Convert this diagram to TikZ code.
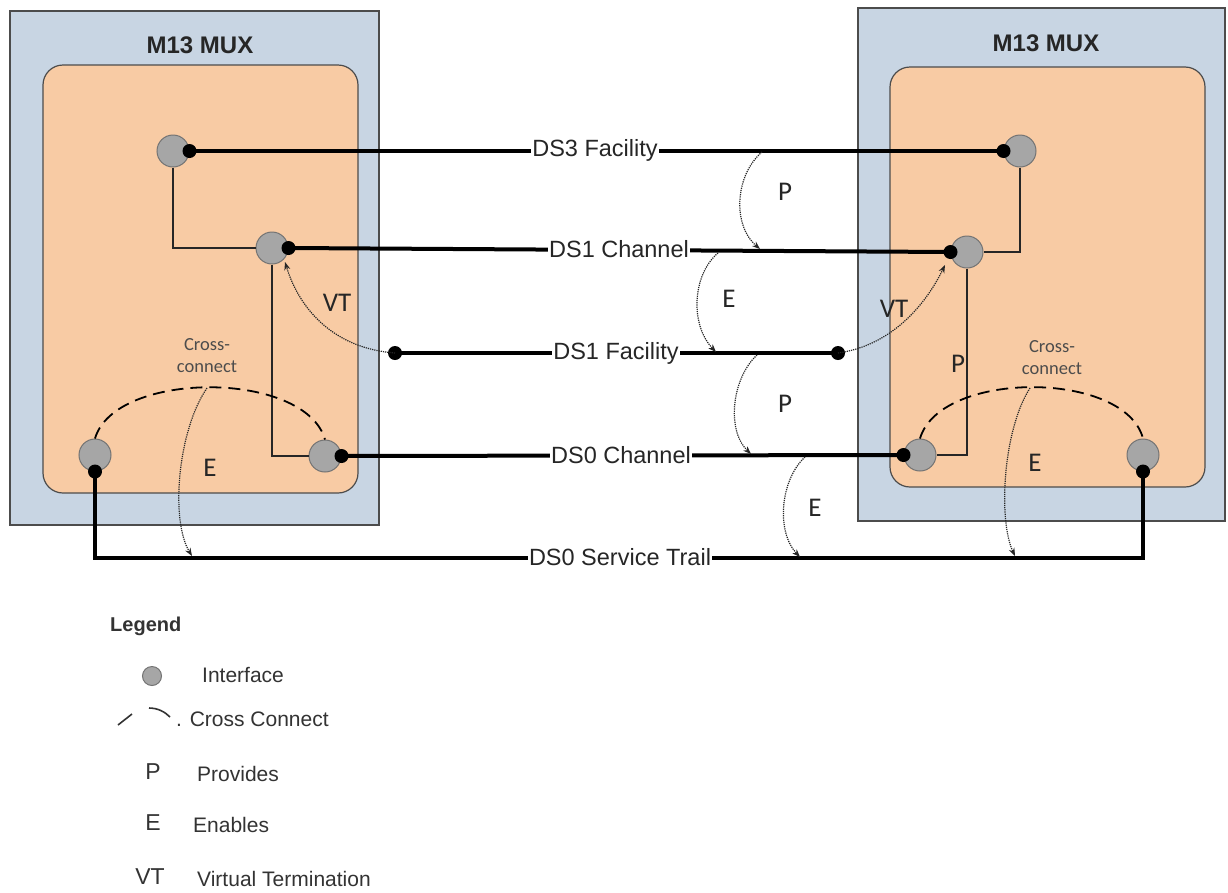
\documentclass[tikz,border=0pt]{standalone}
\usepackage{fontspec}
\setmainfont{Liberation Sans}
\newfontfamily\calfont{Carlito}
\usetikzlibrary{arrows.meta}
\definecolor{outerblue}{HTML}{C8D5E3}
\definecolor{peach}{HTML}{F8CBA4}
\definecolor{ifgray}{HTML}{A6A6A6}
\definecolor{txtgray}{HTML}{333333}
\begin{document}
\begin{tikzpicture}[x=1pt,y=-1pt,
  outerbox/.style={draw=black!70, fill=outerblue, line width=1.2pt},
  innerbox/.style={draw=black!70, fill=peach, rounded corners=20pt, line width=1.2pt},
  iface/.style={circle, draw=black!55, fill=ifgray, minimum size=32pt, inner sep=0pt, line width=1pt},
  tdot/.style={circle, fill=black, minimum size=14pt, inner sep=0pt},
  trail/.style={line width=4pt},
  thinline/.style={line width=1.3pt, draw=black!85},
  rel/.style={densely dotted, line width=1.2pt, draw=black!85, -{Stealth[length=8pt,width=6pt]}},
  xc/.style={dash pattern=on 12pt off 7pt, line width=1.8pt},
  lbl/.style={fill=white, inner sep=1pt, text=black!85, font=\fontsize{23.5}{26}\selectfont},
  rlbl/.style={font=\calfont\fontsize{27}{28}\selectfont, text=black!85},
  title/.style={font=\bfseries\fontsize{24}{26}\selectfont, text=black!85},
  xclbl/.style={font=\calfont\fontsize{18.5}{22}\selectfont, text=black!70, align=center},
  legtxt/.style={font=\fontsize{21}{24}\selectfont, text=txtgray, anchor=west, inner sep=0pt},
  legsym/.style={font=\fontsize{23}{24}\selectfont, text=txtgray}]
\useasboundingbox[fill=white] (0,0) rectangle (1228,892);

% boxes
\draw[outerbox] (10,11) rectangle (379,525);
\draw[innerbox] (43,65) rectangle (358,493);
\node[title] (tl) at (200,45) {M13 MUX};
\draw[outerbox] (858,8) rectangle (1225,521);
\draw[innerbox] (890,67) rectangle (1205,487);
\node[title] (tr) at (1046,43) {M13 MUX};

% interfaces
\node[iface] (l3) at (173,151) {};
\node[iface] (l1) at (272,248) {};
\node[iface] (l0a) at (95,455) {};
\node[iface] (l0b) at (325,456) {};
\node[iface] (r3) at (1020,151) {};
\node[iface] (r1) at (967,252) {};
\node[iface] (r0a) at (920,455) {};
\node[iface] (r0b) at (1143,455) {};

% thin internal connections
\draw[thinline] (l3.south) |- (l1.west);
\draw[thinline] (l1.south) |- (l0b.west);
\draw[thinline] (r3.south) |- (r1.east);
\draw[thinline] (r1.south) |- (r0a.east);

% dots
\node[tdot] (d3l) at (l3.east) {};
\node[tdot] (d1l) at (l1.east) {};
\node[tdot] (dsl) at (l0a.south) {};
\node[tdot] (d0l) at (l0b.east) {};
\node[tdot] (d3r) at (r3.west) {};
\node[tdot] (d1r) at (r1.west) {};
\node[tdot] (d0r) at (r0a.west) {};
\node[tdot] (dsr) at (r0b.south) {};
\node[tdot] (f1) at (395,353) {};
\node[tdot] (f2) at (838,353) {};

% trails
\draw[trail] (d3l.center) -- (d3r.center);
\draw[trail] (d1l.center) -- (d1r.center);
\draw[trail] (f1.center) -- (f2.center);
\draw[trail] (d0l.center) -- (d0r.center);
\coordinate (trailL) at (95,558);
\coordinate (trailR) at (1143,558);
\draw[trail] (dsl.center) -- (trailL) -- (trailR) -- (dsr.center);

\node[lbl] (n3) at (595,150) {DS3 Facility};
\node[lbl] (n1) at (619,249) {DS1 Channel};
\node[lbl] (nf) at (616,353) {DS1 Facility};
\node[lbl] (n0) at (621,455) {DS0 Channel};
\node[lbl] (ns) at (620,557) {DS0 Service Trail};

% relation arrows between trails
\coordinate (p1s) at (762,152);
\coordinate (p1e) at (760,249);
\draw[rel] (p1s) .. controls (735,175) and (732,225) .. (p1e);
\node[rlbl] (p1) at (785,192) {P};
\coordinate (e1s) at (718,253);
\coordinate (e1e) at (716,352);
\draw[rel] (e1s) .. controls (692,275) and (690,325) .. (e1e);
\node[rlbl] (e1) at (729,299) {E};
\coordinate (p2s) at (757,355);
\coordinate (p2e) at (751,454);
\draw[rel] (p2s) .. controls (732,378) and (726,430) .. (p2e);
\node[rlbl] (p2) at (785,404) {P};
\coordinate (e2s) at (805,457);
\coordinate (e2e) at (800,557);
\draw[rel] (e2s) .. controls (780,480) and (776,532) .. (e2e);
\node[rlbl] (e2) at (815,508) {E};

% virtual terminations
\coordinate (vtl) at (285,262);
\draw[rel] (f1.center) .. controls (330,348) and (298,305) .. (vtl);
\node[rlbl] (vt1) at (337,303) {VT};
\coordinate (vtr) at (945,265);
\draw[rel] (f2.center) .. controls (895,345) and (928,300) .. (vtr);
\node[rlbl] (vt2) at (894,309) {VT};
\node[rlbl] (pr) at (958,364) {P};

% cross-connects
\draw[xc] (l0a.north) .. controls (115,370) and (305,370) .. (l0b.north);
\node[xclbl] (xl) at (207,356) {Cross-\\connect};
\coordinate (xls) at (207,388);
\coordinate (xle) at (192,556);
\draw[rel] (xls) .. controls (178,430) and (170,520) .. (xle);
\node[rlbl] (el) at (210,468) {E};

\draw[xc] (r0a.north) .. controls (940,370) and (1125,370) .. (r0b.north);
\node[xclbl] (xr) at (1052,358) {Cross-\\connect};
\coordinate (xrs) at (1030,388);
\coordinate (xre) at (1015,556);
\draw[rel] (xrs) .. controls (1003,430) and (998,520) .. (xre);
\node[rlbl] (er) at (1035,463) {E};

% legend
\node[font=\bfseries\fontsize{20}{22}\selectfont, text=txtgray, anchor=west, inner sep=0pt] (lg) at (110,626) {Legend};
\node[circle, draw=black!55, fill=ifgray, minimum size=19pt, inner sep=0pt, line width=1pt] (lgi) at (152,676) {};
\node[legtxt] (lgit) at (202,675) {Interface};
\draw[line width=1.6pt, txtgray] (118,725) -- (132,714);
\draw[line width=1.6pt, txtgray] (149,708) .. controls (158,708) and (165,712) .. (170,717);
\node[legtxt] (lgct) at (176,719) {. Cross Connect};
\node[legsym] (lgp) at (153,772) {P};
\node[legtxt] (lgpt) at (197,774) {Provides};
\node[legsym] (lge) at (153,823) {E};
\node[legtxt] (lget) at (193,825) {Enables};
\node[legsym] (lgv) at (150,877) {VT};
\node[legtxt] (lgvt) at (197,879) {Virtual Termination};
\end{tikzpicture}
\end{document}
